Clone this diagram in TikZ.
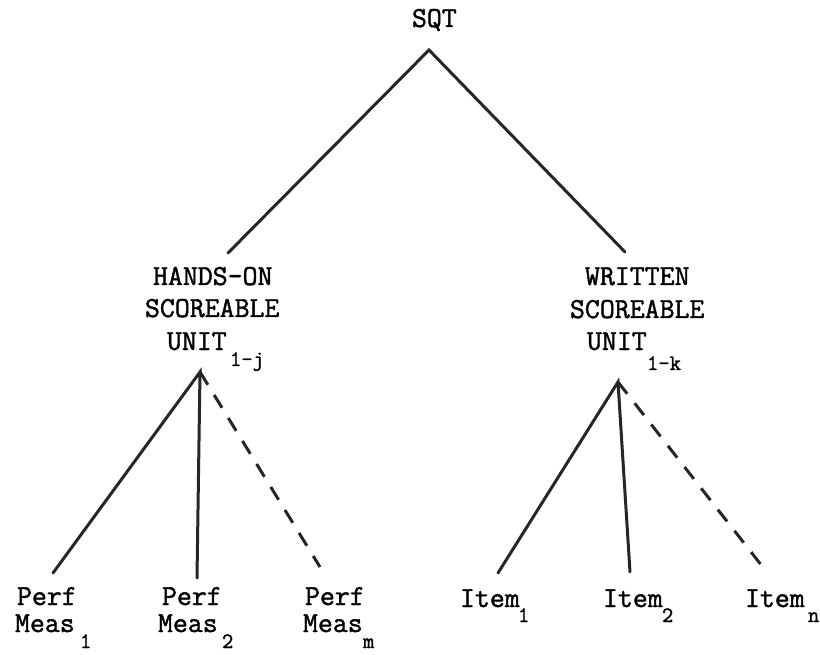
\documentclass[tikz,border=0pt]{standalone}
\usepackage{fontspec}
\newfontfamily\tw[FakeBold=1.5]{Latin Modern Mono}
\begin{document}
\begin{tikzpicture}[x=1pt,y=-1pt,
  lbl/.style={anchor=base west,inner sep=0pt,outer sep=0pt,font=\tw\fontsize{29}{29}\selectfont},
  sub/.style={anchor=base west,inner sep=0pt,outer sep=0pt,font=\tw\fontsize{22}{22}\selectfont},
  edge/.style={line width=3pt,line cap=round,black!85},
  dedge/.style={edge,line cap=butt,dash pattern=on 15pt off 12pt}]
\useasboundingbox (0,0) rectangle (820,655);
% labels
\node[lbl] (sqt) at (412,27) {SQT};
\node[lbl] (hands1) at (153,285) {HANDS-ON};
\node[lbl] (hands2) at (145,317) {SCOREABLE};
\node[lbl] (hands3) at (167,350) {UNIT};
\node[sub] (handssub) at (230,366) {1-j};
\node[lbl] (writ1) at (585,285) {WRITTEN};
\node[lbl] (writ2) at (570,318) {SCOREABLE};
\node[lbl] (writ3) at (587,350) {UNIT};
\node[sub] (writsub) at (647,370) {1-k};
\node[lbl] (pa1) at (17,605) {Perf};
\node[lbl] (pa2) at (15,632) {Meas};
\node[sub] (pas) at (80,648) {1};
\node[lbl] (pb1) at (162,605) {Perf};
\node[lbl] (pb2) at (158,632) {Meas};
\node[sub] (pbs) at (222,648) {2};
\node[lbl] (pc1) at (305,605) {Perf};
\node[lbl] (pc2) at (303,632) {Meas};
\node[sub] (pcs) at (363,648) {m};
\node[lbl] (ia) at (460,607) {Item};
\node[sub] (ias) at (518,622) {1};
\node[lbl] (ib) at (603,607) {Item};
\node[sub] (ibs) at (662,622) {2};
\node[lbl] (ic) at (745,607) {Item};
\node[sub] (ics) at (808,622) {n};
% connector points
\coordinate (top) at (429,50);
\coordinate (lend) at (228,253);
\coordinate (rend) at (625,252);
\coordinate (lapex) at (200,372);
\coordinate (rapex) at (618,382);
\coordinate (pa) at (53,573);
\coordinate (pb) at (197,578);
\coordinate (pc) at (320,567);
\coordinate (iaend) at (498,573);
\coordinate (ibend) at (630,572);
\coordinate (icend) at (762,566);
% connectors
\draw[edge] (lend) -- (top) -- (rend);
\draw[edge] (pa) -- (lapex) -- (pb);
\draw[dedge] (lapex) -- (pc);
\draw[edge] (iaend) -- (rapex) -- (ibend);
\draw[dedge] (rapex) -- (icend);
\end{tikzpicture}
\end{document}
